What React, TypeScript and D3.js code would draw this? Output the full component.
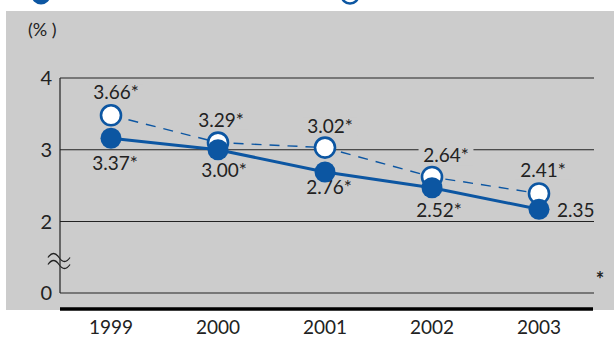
import React from "react";
import * as d3 from "d3";

const years = ["1999", "2000", "2001", "2002", "2003"];
const filledValues = [3.16, 3.0, 2.69, 2.47, 2.17];
const openValues = [3.48, 3.1, 3.03, 2.62, 2.39];
const filledLabels = ["3.37*", "3.00*", "2.76*", "2.52*", "2.35"];
const openLabels = ["3.66*", "3.29*", "3.02*", "2.64*", "2.41*"];
const yTicks = [0, 2, 3, 4];

const W = 614;
const H = 338;
const BLUE = "#0c56a2";
const GRAY = "#cccccc";
const INK = "#222";
const FONT = "Lato, 'DejaVu Sans', sans-serif";

// layout offsets for labels (dx, dy from point), anchor
const openOff: [number, number, string][] = [
  [5, -16, "middle"],
  [3, -16, "middle"],
  [5, -15, "middle"],
  [14, -15, "middle"],
  [4, -17, "middle"],
];
const filledOff: [number, number, string][] = [
  [4, 32, "middle"],
  [6, 27, "middle"],
  [4, 22, "middle"],
  [7, 29, "middle"],
  [18, 8, "start"],
];

export default function App() {
  const x = d3.scalePoint<string>().domain(years).range([111, 539]);
  const y = d3.scaleLinear().domain([0, 2, 4]).range([293, 221.5, 78]);
  const xL = 60;
  const xR = 594;

  const line = d3
    .line<number>()
    .x((_, i) => x(years[i]) as number)
    .y((d) => y(d));

  const fs = 19;
  const charW = (s: string) => {
    let w = 0;
    for (const c of s) w += c === "." ? 4.5 : c === "*" ? 8 : 10.8;
    return w;
  };

  const label = (
    txt: string,
    px: number,
    py: number,
    off: [number, number, string],
    key: string
  ) => {
    const tx = px + off[0];
    const ty = py + off[1];
    const w = charW(txt);
    const x0 = off[2] === "middle" ? tx - w / 2 : tx;
    return (
      <g key={key}>
        <rect x={x0 - 5} y={ty - 15} width={w + 10} height={18} fill={GRAY} />
        <text
          x={tx}
          y={ty}
          textAnchor={off[2] as any}
          fontSize={fs}
          fill={INK}
          fontFamily={FONT}
        >
          {txt}
        </text>
      </g>
    );
  };

  return (
    <svg
      width={W}
      height={H}
      style={{ position: "absolute", left: 0, top: 0, background: "#fff" }}
    >
      {/* legend markers (cut off at top) */}
      <circle cx={41} cy={-5} r={9.5} fill={BLUE} />
      <circle cx={350} cy={-5} r={8.5} fill="#fff" stroke={BLUE} strokeWidth={2.5} />

      <rect x={6} y={11} width={W - 6} height={299} fill={GRAY} />

      <text x={28} y={36} fontSize={18} fill={INK} fontFamily={FONT}>
        (% )
      </text>

      {yTicks.map((t) => (
        <g key={t}>
          <line x1={xL} x2={xR} y1={y(t)} y2={y(t)} stroke={INK} strokeWidth={1.2} />
          <text
            x={52}
            y={y(t) + 7}
            textAnchor="end"
            fontSize={20}
            fill={INK}
            fontFamily={FONT}
          >
            {t}
          </text>
        </g>
      ))}
      <line x1={xL} x2={xL} y1={y(4)} y2={y(0)} stroke={INK} strokeWidth={1.2} />

      {/* axis break */}
      {[-3.5, 3.5].map((o) => (
        <path
          key={o}
          d={`M48,${261 + o} q5.5,-8 11,0 t11,0`}
          fill="none"
          stroke={INK}
          strokeWidth={1.3}
        />
      ))}

      <line x1={xL} x2={593} y1={309} y2={309} stroke="#000" strokeWidth={3.5} />

      {years.map((yr) => (
        <text
          key={yr}
          x={x(yr)}
          y={334}
          textAnchor="middle"
          fontSize={19}
          fill={INK}
          fontFamily={FONT}
        >
          {yr}
        </text>
      ))}

      <text
        x={600}
        y={287}
        textAnchor="middle"
        fontSize={20}
        fontWeight="bold"
        fill={INK}
        fontFamily={FONT}
      >
        *
      </text>

      {/* labels */}
      {openLabels.map((t, i) =>
        label(t, x(years[i]) as number, y(openValues[i]), openOff[i], "o" + i)
      )}
      {filledLabels.map((t, i) =>
        label(t, x(years[i]) as number, y(filledValues[i]), filledOff[i], "f" + i)
      )}

      <path
        d={line(openValues) || ""}
        fill="none"
        stroke={BLUE}
        strokeWidth={1.4}
        strokeDasharray="10,8"
      />
      <path d={line(filledValues) || ""} fill="none" stroke={BLUE} strokeWidth={3} />

      {openValues.map((v, i) => (
        <circle
          key={"oc" + i}
          cx={x(years[i])}
          cy={y(v)}
          r={10}
          fill="#fff"
          stroke={BLUE}
          strokeWidth={2.6}
        />
      ))}
      {filledValues.map((v, i) => (
        <circle key={"fc" + i} cx={x(years[i])} cy={y(v)} r={10.5} fill={BLUE} />
      ))}
    </svg>
  );
}
